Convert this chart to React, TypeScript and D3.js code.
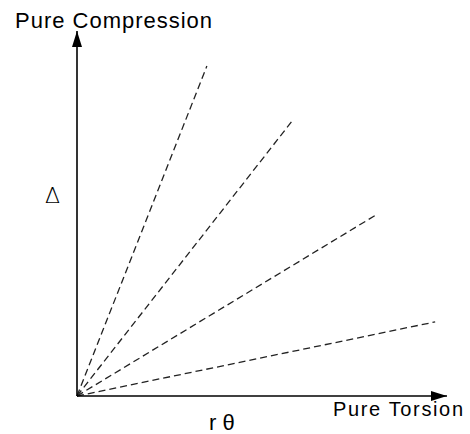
import React, { useRef, useEffect } from 'react';
import * as d3 from 'd3';

// ray end points in normalised units (0..1 along each axis)
const rayX = [0.351, 0.581, 0.808, 0.968];
const rayY = [0.904, 0.753, 0.496, 0.203];

const yTopLabel = 'Pure Compression';
const xEndLabel = 'Pure Torsion';
const yLabel = 'Δ';
const xLabel = 'r θ';

const App = () => {
  const chartRef = useRef<HTMLDivElement>(null);

  useEffect(() => {
    const svgWidth = 470;
    const svgHeight = 434;
    const origin = { x: 77, y: 396 };

    // no page margin, no scrollbars
    document.body.style.margin = '0';
    document.body.style.overflow = 'hidden';

    const root = d3.select(chartRef.current);
    root.selectAll('*').remove();

    const svg = root
      .append('svg')
      .attr('width', svgWidth)
      .attr('height', svgHeight)
      .style('display', 'block')
      .style('background', '#fff');

    const xScale = d3.scaleLinear().domain([0, 1]).range([origin.x, 447]);
    const yScale = d3.scaleLinear().domain([0, 1]).range([origin.y, 31]);

    const defs = svg.append('defs');
    defs.append('marker')
      .attr('id', 'arrow')
      .attr('viewBox', '0 0 16 10')
      .attr('refX', 16)
      .attr('refY', 5)
      .attr('markerWidth', 16)
      .attr('markerHeight', 10)
      .attr('markerUnits', 'userSpaceOnUse')
      .attr('orient', 'auto')
      .append('path')
      .attr('d', 'M0,0 L16,5 L0,10 Z')
      .attr('fill', '#000');

    const rays = rayX.map((x, i) => [[0, 0], [x, rayY[i]]] as [number, number][]);

    const line = d3.line<[number, number]>()
      .x(d => xScale(d[0]))
      .y(d => yScale(d[1]));

    // dashed rays
    svg.selectAll('path.ray')
      .data(rays)
      .enter()
      .append('path')
      .attr('class', 'ray')
      .attr('d', d => line(d))
      .attr('stroke', '#222')
      .attr('stroke-width', 1.3)
      .attr('stroke-dasharray', '7,4')
      .attr('fill', 'none');

    // axes
    svg.append('path')
      .attr('d', line([[0, 0], [0, 1]]))
      .attr('stroke', '#000')
      .attr('stroke-width', 1.6)
      .attr('marker-end', 'url(#arrow)');

    svg.append('path')
      .attr('d', line([[0, 0], [1, 0]]))
      .attr('stroke', '#000')
      .attr('stroke-width', 1.6)
      .attr('marker-end', 'url(#arrow)');

    const font = '"Liberation Sans", Arial, sans-serif';

    svg.append('text')
      .attr('x', 15)
      .attr('y', 28)
      .attr('font-family', font)
      .attr('font-size', 22)
      .attr('textLength', 197)
      .text(yTopLabel);

    svg.append('text')
      .attr('x', 333)
      .attr('y', 416)
      .attr('font-family', font)
      .attr('font-size', 20)
      .attr('textLength', 130)
      .text(xEndLabel);

    svg.append('text')
      .attr('x', 45)
      .attr('y', 203)
      .attr('font-family', '"DejaVu Sans", sans-serif')
      .attr('font-size', 22)
      .attr('font-weight', 300)
      .text(yLabel);

    svg.append('text')
      .attr('x', 209)
      .attr('y', 430)
      .attr('font-family', font)
      .attr('font-size', 22)
      .text(xLabel);
  }, []);

  return <div ref={chartRef}></div>;
};

export default App;
